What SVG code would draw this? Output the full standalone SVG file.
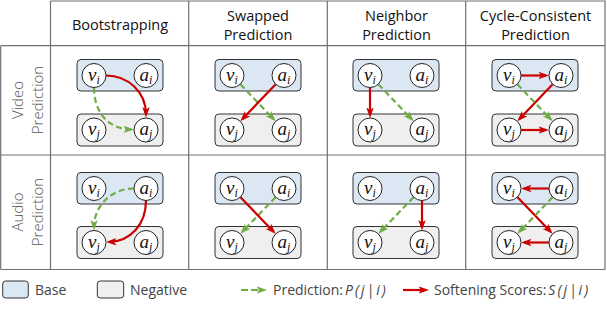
<svg xmlns="http://www.w3.org/2000/svg" width="607" height="310" viewBox="0 0 607 310">
<defs>
<style>
.grid{stroke:#707070;stroke-width:1.2;fill:none}
.hdr{font-family:"Open Sans","Liberation Sans",sans-serif;font-size:14.5px;fill:#111;text-anchor:middle}
.rowl{font-family:"Open Sans","Liberation Sans",sans-serif;font-weight:300;font-size:15px;fill:#555;text-anchor:middle}
.leg{font-family:"Open Sans","Liberation Sans",sans-serif;font-size:14px;fill:#444}
.legm{font-style:italic;letter-spacing:2px}
.base{fill:#dce7f4;stroke:#333;stroke-width:1}
.neg{fill:#efefef;stroke:#333;stroke-width:1}
.nd{fill:#fff;stroke:#222;stroke-width:1}
.lbl{font-family:"Liberation Serif","DejaVu Serif",serif;font-style:italic;font-size:19px;fill:#111;text-anchor:middle}
.sub{font-size:12px}
.red{stroke:#cc0000;stroke-width:2.2;fill:none;marker-end:url(#ar)}
.grn{stroke:#70ad47;stroke-width:2.2;fill:none;stroke-dasharray:6 3.5;marker-end:url(#ag)}
</style>
<marker id="ar" markerUnits="userSpaceOnUse" markerWidth="12" markerHeight="9" refX="7.5" refY="3.75" orient="auto">
<path d="M0,0 L10.5,3.75 L0,7.5 L2.5,3.75 z" fill="#cc0000"/>
</marker>
<marker id="ag" markerUnits="userSpaceOnUse" markerWidth="12" markerHeight="9" refX="7.5" refY="3.75" orient="auto">
<path d="M0,0 L10.5,3.75 L0,7.5 L2.5,3.75 z" fill="#70ad47"/>
</marker>
<g id="pair">
<circle class="nd" cx="-26" cy="0" r="12"/>
<circle class="nd" cx="26" cy="0" r="12"/>
</g>
</defs>
<rect width="607" height="310" fill="#fff"/>

<g id="table">
<path class="grid" d="M50.5,1 H605 V269.5 M0.7,45.7 H605 M0.7,155 H605 M0.7,269.5 H605 M0.7,45.7 V269.5 M50.5,1 V269.5 M188.7,1 V269.5 M327.3,1 V269.5 M465.7,1 V269.5"/>
</g>

<g id="headers">
<text class="hdr" x="120" y="30">Bootstrapping</text>
<text class="hdr" x="258" y="21">Swapped</text>
<text class="hdr" x="258" y="40">Prediction</text>
<text class="hdr" x="396.5" y="21">Neighbor</text>
<text class="hdr" x="396.5" y="40">Prediction</text>
<text class="hdr" x="535.5" y="21">Cycle-Consistent</text>
<text class="hdr" x="535.5" y="40">Prediction</text>
</g>

<g id="rowlabels">
<text class="rowl" transform="translate(22.5,100) rotate(-90)">Video</text>
<text class="rowl" transform="translate(42.5,100) rotate(-90)">Prediction</text>
<text class="rowl" transform="translate(22.5,212) rotate(-90)">Audio</text>
<text class="rowl" transform="translate(42.5,212) rotate(-90)">Prediction</text>
</g>

<g id="boxes">
<rect class="base" x="77" y="59.5" width="86" height="31.5" rx="4"/>
<rect class="neg" x="77" y="114" width="86" height="32" rx="4"/>
<rect class="base" x="215" y="59.5" width="86" height="31.5" rx="4"/>
<rect class="neg" x="215" y="114" width="86" height="32" rx="4"/>
<rect class="base" x="353" y="59.5" width="86" height="31.5" rx="4"/>
<rect class="neg" x="353" y="114" width="86" height="32" rx="4"/>
<rect class="base" x="492" y="59.5" width="86" height="31.5" rx="4"/>
<rect class="neg" x="492" y="114" width="86" height="32" rx="4"/>
<rect class="base" x="77" y="172.5" width="86" height="31.5" rx="4"/>
<rect class="neg" x="77" y="226.5" width="86" height="32" rx="4"/>
<rect class="base" x="215" y="172.5" width="86" height="31.5" rx="4"/>
<rect class="neg" x="215" y="226.5" width="86" height="32" rx="4"/>
<rect class="base" x="353" y="172.5" width="86" height="31.5" rx="4"/>
<rect class="neg" x="353" y="226.5" width="86" height="32" rx="4"/>
<rect class="base" x="492" y="172.5" width="86" height="31.5" rx="4"/>
<rect class="neg" x="492" y="226.5" width="86" height="32" rx="4"/>
</g>

<g id="connectors">
<path class="grn" d="M94,87.5 C94,112 108,129 131,129.5"/>
<path class="red" d="M106,75.5 C128,75.5 146,92 146,114.5"/>
<path class="grn" d="M240.3,84.2 L273.6,119.1"/>
<path class="red" d="M275.7,84.2 L242.4,119.1"/>
<path class="red" d="M370,87.5 L370,115"/>
<path class="grn" d="M378.3,84.2 L411.6,119.1"/>
<path class="red" d="M521,75.5 L546,75.5"/>
<path class="red" d="M552.7,84.2 L519.4,119.1"/>
<path class="grn" d="M517.3,84.2 L550.6,119.1"/>
<path class="red" d="M521,130 L546,130"/>
<path class="grn" d="M134,188.5 C112,188.5 94,205 94,227.5"/>
<path class="red" d="M146,200.5 C146,225 130,241.5 109,242"/>
<path class="grn" d="M275.7,197.1 L242.4,231.7"/>
<path class="red" d="M240.3,197.1 L273.6,231.7"/>
<path class="grn" d="M413.7,197.1 L380.4,231.7"/>
<path class="red" d="M422,200.5 L422,227.5"/>
<path class="red" d="M549,188.5 L524,188.5"/>
<path class="red" d="M517.3,197.1 L550.6,231.7"/>
<path class="grn" d="M552.7,197.1 L519.4,231.7"/>
<path class="red" d="M549,242.5 L524,242.5"/>
</g>

<g id="r1c1">
<use href="#pair" x="120" y="75.5"/><use href="#pair" x="120" y="130"/>
<text class="lbl" x="94" y="80.5">v<tspan class="sub" dy="3">i</tspan></text>
<text class="lbl" x="146" y="80.5">a<tspan class="sub" dy="3">i</tspan></text>
<text class="lbl" x="94" y="135">v<tspan class="sub" dy="3">j</tspan></text>
<text class="lbl" x="146" y="135">a<tspan class="sub" dy="3">j</tspan></text>
</g>
<g id="r1c2">
<use href="#pair" x="258" y="75.5"/><use href="#pair" x="258" y="130"/>
<text class="lbl" x="232" y="80.5">v<tspan class="sub" dy="3">i</tspan></text>
<text class="lbl" x="284" y="80.5">a<tspan class="sub" dy="3">i</tspan></text>
<text class="lbl" x="232" y="135">v<tspan class="sub" dy="3">j</tspan></text>
<text class="lbl" x="284" y="135">a<tspan class="sub" dy="3">j</tspan></text>
</g>
<g id="r1c3">
<use href="#pair" x="396" y="75.5"/><use href="#pair" x="396" y="130"/>
<text class="lbl" x="370" y="80.5">v<tspan class="sub" dy="3">i</tspan></text>
<text class="lbl" x="422" y="80.5">a<tspan class="sub" dy="3">i</tspan></text>
<text class="lbl" x="370" y="135">v<tspan class="sub" dy="3">j</tspan></text>
<text class="lbl" x="422" y="135">a<tspan class="sub" dy="3">j</tspan></text>
</g>
<g id="r1c4">
<use href="#pair" x="535" y="75.5"/><use href="#pair" x="535" y="130"/>
<text class="lbl" x="509" y="80.5">v<tspan class="sub" dy="3">i</tspan></text>
<text class="lbl" x="561" y="80.5">a<tspan class="sub" dy="3">i</tspan></text>
<text class="lbl" x="509" y="135">v<tspan class="sub" dy="3">j</tspan></text>
<text class="lbl" x="561" y="135">a<tspan class="sub" dy="3">j</tspan></text>
</g>
<g id="r2c1">
<use href="#pair" x="120" y="188.5"/><use href="#pair" x="120" y="242.5"/>
<text class="lbl" x="94" y="193.5">v<tspan class="sub" dy="3">i</tspan></text>
<text class="lbl" x="146" y="193.5">a<tspan class="sub" dy="3">i</tspan></text>
<text class="lbl" x="94" y="247.5">v<tspan class="sub" dy="3">j</tspan></text>
<text class="lbl" x="146" y="247.5">a<tspan class="sub" dy="3">j</tspan></text>
</g>
<g id="r2c2">
<use href="#pair" x="258" y="188.5"/><use href="#pair" x="258" y="242.5"/>
<text class="lbl" x="232" y="193.5">v<tspan class="sub" dy="3">i</tspan></text>
<text class="lbl" x="284" y="193.5">a<tspan class="sub" dy="3">i</tspan></text>
<text class="lbl" x="232" y="247.5">v<tspan class="sub" dy="3">j</tspan></text>
<text class="lbl" x="284" y="247.5">a<tspan class="sub" dy="3">j</tspan></text>
</g>
<g id="r2c3">
<use href="#pair" x="396" y="188.5"/><use href="#pair" x="396" y="242.5"/>
<text class="lbl" x="370" y="193.5">v<tspan class="sub" dy="3">i</tspan></text>
<text class="lbl" x="422" y="193.5">a<tspan class="sub" dy="3">i</tspan></text>
<text class="lbl" x="370" y="247.5">v<tspan class="sub" dy="3">j</tspan></text>
<text class="lbl" x="422" y="247.5">a<tspan class="sub" dy="3">j</tspan></text>
</g>
<g id="r2c4">
<use href="#pair" x="535" y="188.5"/><use href="#pair" x="535" y="242.5"/>
<text class="lbl" x="509" y="193.5">v<tspan class="sub" dy="3">i</tspan></text>
<text class="lbl" x="561" y="193.5">a<tspan class="sub" dy="3">i</tspan></text>
<text class="lbl" x="509" y="247.5">v<tspan class="sub" dy="3">j</tspan></text>
<text class="lbl" x="561" y="247.5">a<tspan class="sub" dy="3">j</tspan></text>
</g>

<g id="legend">
<rect class="base" x="2.7" y="281" width="25.6" height="17" rx="3"/>
<text class="leg" x="35" y="295">Base</text>
<rect class="neg" x="97.3" y="281" width="26.4" height="17" rx="3"/>
<text class="leg" x="130" y="295">Negative</text>
<path class="grn" d="M241,290 L264,290" style="stroke-dasharray:7 3"/>
<text class="leg" x="273" y="295">Prediction:<tspan class="legm" dx="2">P(j|i)</tspan></text>
<path class="red" d="M403,290 L426,290"/>
<text class="leg" x="434" y="295">Softening Scores:<tspan class="legm" dx="2">S(j|i)</tspan></text>
</g>
</svg>
